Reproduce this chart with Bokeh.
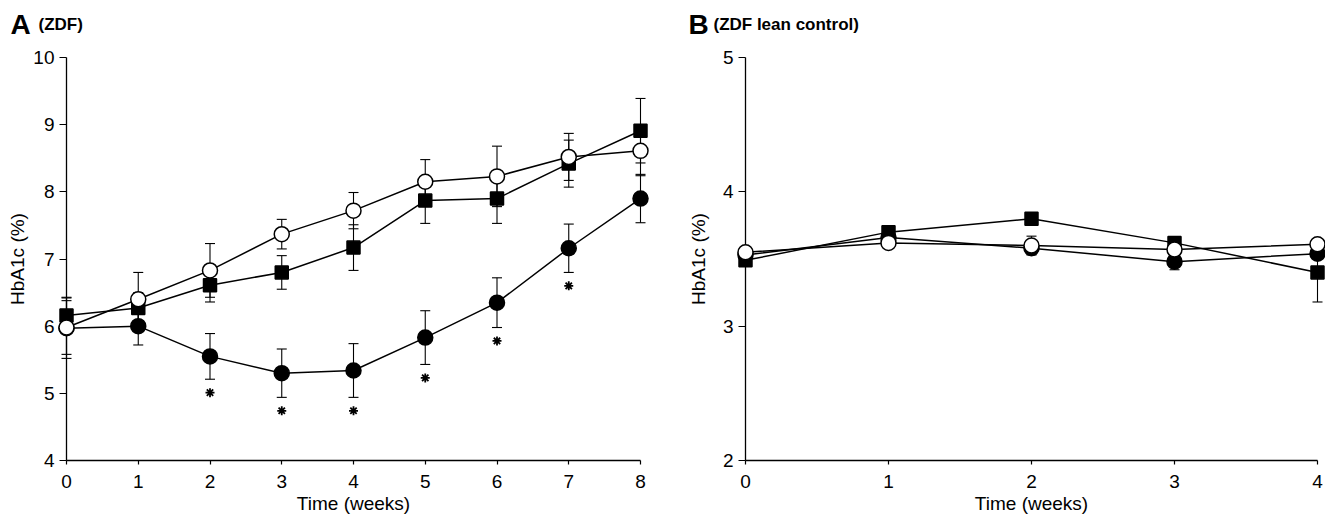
import math
from bokeh.plotting import figure
from bokeh.layouts import row
from bokeh.models import FixedTicker
from bokeh.core.properties import value
from bokeh.embed import file_html
from bokeh.resources import INLINE

# ---------------- data ----------------
# Panel A (ZDF)
weeks_a = [0, 1, 2, 3, 4, 5, 6, 7, 8]
open_a = [5.98, 6.40, 6.83, 7.37, 7.72, 8.15, 8.23, 8.52, 8.61]
open_a_err = [0.40, 0.40, 0.40, 0.22, 0.27, 0.33, 0.45, 0.35, 0.37]
square_a = [6.16, 6.27, 6.61, 6.80, 7.17, 7.87, 7.90, 8.42, 8.91]
square_a_err = [0.27, 0.23, 0.25, 0.25, 0.34, 0.34, 0.37, 0.35, 0.48]
filled_a = [5.97, 6.00, 5.55, 5.30, 5.34, 5.83, 6.35, 7.16, 7.90]
filled_a_err = [0.45, 0.28, 0.34, 0.36, 0.40, 0.40, 0.37, 0.36, 0.36]
sig_weeks_a = [2, 3, 4, 5, 6, 7]

# Panel B (ZDF lean control)
weeks_b = [0, 1, 2, 3, 4]
open_b = [3.55, 3.62, 3.60, 3.57, 3.61]
open_b_err = [0.02, 0.03, 0.07, 0.03, 0.02]
square_b = [3.49, 3.70, 3.80, 3.62, 3.40]
square_b_err = [0.02, 0.02, 0.02, 0.04, 0.22]
filled_b = [3.53, 3.66, 3.58, 3.48, 3.54]
filled_b_err = [0.02, 0.04, 0.03, 0.06, 0.03]

x_ticks_a = [0, 1, 2, 3, 4, 5, 6, 7, 8]
y_ticks_a = [4, 5, 6, 7, 8, 9, 10]
x_ticks_b = [0, 1, 2, 3, 4]
y_ticks_b = [2, 3, 4, 5]

x_label = "Time (weeks)"
y_label = "HbA1c (%)"

FONT = "Liberation Sans"


def style_axes(p, xt, yt):
    p.xaxis.ticker = FixedTicker(ticks=xt)
    p.yaxis.ticker = FixedTicker(ticks=yt)
    for ax in (p.xaxis[0], p.yaxis[0]):
        ax.axis_line_color = "black"
        ax.axis_line_width = 1.3
        ax.major_tick_line_color = "black"
        ax.major_tick_line_width = 1.2
        ax.minor_tick_line_color = None
        ax.major_tick_in = 0
        ax.major_label_text_font = FONT
        ax.major_label_text_font_size = "19px"
        ax.major_label_text_color = "black"
    p.xaxis.major_tick_out = 4
    p.xaxis.major_label_standoff = 10
    p.yaxis.major_tick_out = 7
    p.yaxis.major_label_standoff = 5
    p.xgrid.grid_line_color = None
    p.ygrid.grid_line_color = None
    p.outline_line_color = None
    p.background_fill_color = "white"
    p.border_fill_color = "white"


def add_errors(p, x, y, err):
    lo = [v - e for v, e in zip(y, err)]
    hi = [v + e for v, e in zip(y, err)]
    rs = [
        p.segment(x0=x, y0=lo, x1=x, y1=hi, line_color="black", line_width=1.1),
        p.scatter(x=x, y=lo, marker="dash", size=10, line_color="black", line_width=1.1),
        p.scatter(x=x, y=hi, marker="dash", size=10, line_color="black", line_width=1.1),
    ]
    for r in rs:
        r.level = "overlay"
    return lo


def add_markers(p, x, y, marker, size, fill):
    r1 = p.line(x=x, y=y, line_color="black", line_width=1.5)
    r2 = p.scatter(x=x, y=y, marker=marker, size=size, fill_color=fill,
                   line_color="black", line_width=1.5)
    r1.level = "overlay"
    r2.level = "overlay"


def add_text(p, x, y, txt, size, bold=False, align="left", baseline="alphabetic", angle=0.0):
    r = p.text(x=[x], y=[y], text=[txt], text_font=value(FONT), text_font_size=size,
               text_font_style="bold" if bold else "normal", text_color="black",
               text_align=align, text_baseline=baseline, angle=angle)
    r.level = "overlay"


# ---------------- panel A ----------------
pA = figure(width=688, height=515, x_range=(0, 8), y_range=(4, 10),
            toolbar_location=None, output_backend="svg",
            min_border_left=66, min_border_right=48, min_border_top=57, min_border_bottom=55)
style_axes(pA, x_ticks_a, y_ticks_a)

add_errors(pA, weeks_a, square_a, square_a_err)
lo_f = add_errors(pA, weeks_a, filled_a, filled_a_err)
add_errors(pA, weeks_a, open_a, open_a_err)
add_markers(pA, weeks_a, square_a, "square", 13, "black")
add_markers(pA, weeks_a, filled_a, "circle", 15, "black")
add_markers(pA, weeks_a, open_a, "circle", 15, "white")

star_y = [lo_f[weeks_a.index(w)] - 0.2 for w in sig_weeks_a]
rs = pA.scatter(x=sig_weeks_a, y=star_y, marker="asterisk", size=9,
                line_color="black", line_width=1.8)
rs.level = "overlay"

add_text(pA, -0.781, 10.49, "A", "28px", bold=True)
add_text(pA, -0.39, 10.49, "(ZDF)", "17px", bold=True)
add_text(pA, 4, 3.36, x_label, "19px", align="center")
add_text(pA, -0.683, 7, y_label, "19px", align="center", baseline="middle", angle=math.pi / 2)

# ---------------- panel B ----------------
pB = figure(width=637, height=515, x_range=(0, 4), y_range=(2, 5),
            toolbar_location=None, output_backend="svg",
            min_border_left=57, min_border_right=8, min_border_top=57, min_border_bottom=55)
style_axes(pB, x_ticks_b, y_ticks_b)

add_errors(pB, weeks_b, square_b, square_b_err)
add_errors(pB, weeks_b, filled_b, filled_b_err)
add_errors(pB, weeks_b, open_b, open_b_err)
add_markers(pB, weeks_b, square_b, "square", 13, "black")
add_markers(pB, weeks_b, filled_b, "circle", 15, "black")
add_markers(pB, weeks_b, open_b, "circle", 15, "white")

add_text(pB, -0.399, 5.246, "B", "28px", bold=True)
add_text(pB, -0.224, 5.246, "(ZDF lean control)", "17px", bold=True)
add_text(pB, 2, 1.68, x_label, "19px", align="center")
add_text(pB, -0.33, 3.5, y_label, "19px", align="center", baseline="middle", angle=math.pi / 2)

layout = row(pA, pB)
open("out.html", "w").write(file_html(layout, INLINE))
